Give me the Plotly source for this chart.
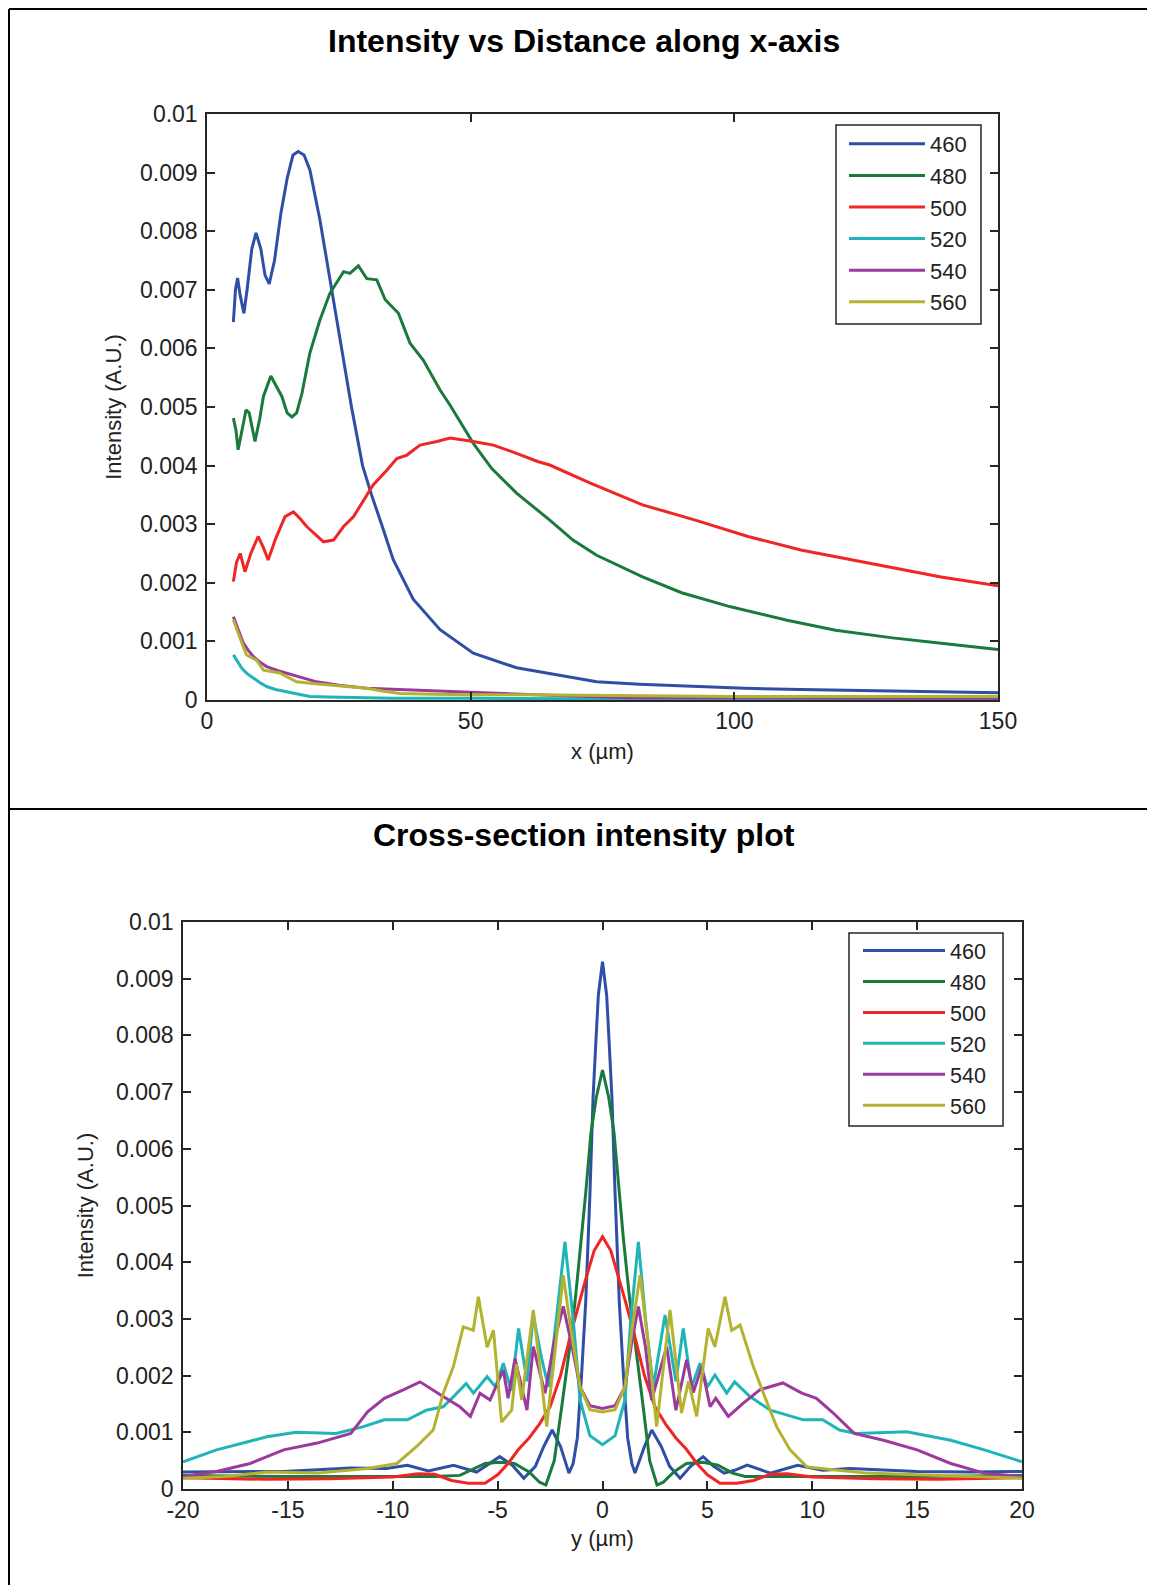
import plotly.graph_objects as go

W, H = 1155, 1585
PAGE_OFFSET = 8  # the page body adds an 8 px margin around the figure

wavelengths = ["460", "480", "500", "520", "540", "560"]
colors = ["#2f4ea6", "#1a7a3c", "#f02626", "#1fb5b8", "#9c3a9c", "#b3b330"]

# ---------- Top chart: intensity vs distance along x (x in um, intensity in 1e-3 A.U.) ----------
top_x_460 = [5.0, 5.4, 5.8, 6.3, 7.0, 7.6, 8.5, 9.3, 10.2, 11.0, 11.8, 12.8, 14.0, 15.2, 16.3, 17.3, 18.4, 19.5,
             21.4, 23.3, 25.2, 27.4, 29.5, 31.2, 33.1, 35.3, 39.1, 44.2, 50.5, 58.7, 68.2, 73.9, 82.0, 92.6,
             102.0, 112.6, 125.0, 139.2, 150.0]
top_i_460 = [6.45, 7.0, 7.2, 6.9, 6.6, 7.0, 7.7, 7.97, 7.7, 7.25, 7.1, 7.5, 8.3, 8.9, 9.3, 9.36, 9.3, 9.05,
             8.2, 7.2, 6.2, 5.0, 4.0, 3.5, 3.0, 2.4, 1.72, 1.2, 0.8, 0.55, 0.40, 0.31, 0.27, 0.23,
             0.20, 0.18, 0.16, 0.14, 0.125]

top_x_480 = [5.0, 5.5, 5.9, 6.6, 7.4, 8.0, 8.6, 9.1, 10.0, 10.7, 12.1, 13.2, 14.2, 15.2, 16.1, 17.0, 18.0, 19.5,
             21.4, 23.3, 25.9, 27.1, 28.7, 30.3, 32.2, 33.8, 36.3, 38.5, 41.0, 44.2, 46.1, 50.5, 54.0, 58.7,
             65.0, 69.4, 73.9, 82.6, 90.0, 99.3, 110.0, 119.2, 130.0, 139.2, 150.0]
top_i_480 = [4.81, 4.6, 4.27, 4.6, 4.95, 4.9, 4.6, 4.41, 4.8, 5.18, 5.53, 5.35, 5.18, 4.9, 4.83, 4.9, 5.23, 5.92,
             6.48, 6.94, 7.31, 7.28, 7.41, 7.19, 7.17, 6.83, 6.60, 6.09, 5.80, 5.29, 5.03, 4.38, 3.95, 3.53,
             3.07, 2.73, 2.47, 2.10, 1.83, 1.59, 1.36, 1.19, 1.06, 0.97, 0.86]

top_x_500 = [5.0, 5.6, 6.3, 7.2, 8.3, 9.7, 10.7, 11.6, 13.0, 14.8, 16.4, 17.6, 18.9, 20.5, 22.1, 24.0, 25.9, 27.8,
             29.7, 31.5, 34.1, 36.0, 37.9, 40.4, 43.6, 46.1, 50.5, 54.3, 58.7, 62.7, 65.0, 72.7, 82.6, 92.6,
             102.6, 112.6, 125.9, 139.2, 150.0]
top_i_500 = [2.02, 2.35, 2.50, 2.19, 2.5, 2.79, 2.6, 2.39, 2.75, 3.13, 3.21, 3.1, 2.96, 2.83, 2.70, 2.73, 2.96, 3.13,
             3.41, 3.67, 3.92, 4.12, 4.18, 4.35, 4.41, 4.47, 4.41, 4.35, 4.21, 4.07, 4.01, 3.70, 3.33, 3.07,
             2.79, 2.56, 2.33, 2.10, 1.95]

top_x_520 = [5.0, 5.8, 6.6, 7.6, 8.8, 10.0, 11.3, 13.0, 15.1, 17.0, 19.5, 23.0, 27.0, 35.0, 50.0, 70.0, 100.0, 150.0]
top_i_520 = [0.77, 0.66, 0.54, 0.45, 0.37, 0.30, 0.23, 0.18, 0.14, 0.10, 0.06, 0.05, 0.04, 0.03, 0.03, 0.02, 0.02, 0.02]

top_x_540 = [5.0, 5.5, 6.2, 6.9, 7.8, 8.8, 10.0, 11.3, 13.5, 16.4, 18.5, 20.8, 25.0, 30.3, 36.0, 42.9, 50.0, 53.0,
             65.0, 80.0, 100.0, 130.0, 150.0]
top_i_540 = [1.42, 1.30, 1.12, 0.97, 0.85, 0.74, 0.65, 0.57, 0.50, 0.43, 0.37, 0.31, 0.25, 0.20, 0.18, 0.16, 0.14, 0.12,
             0.08, 0.04, 0.035, 0.03, 0.03]

top_x_560 = [5.0, 5.9, 6.7, 7.5, 8.5, 9.4, 10.7, 12.2, 13.8, 15.5, 17.0, 20.0, 22.7, 26.0, 30.3, 33.5, 36.6, 43.0,
             50.0, 60.0, 80.0, 100.0, 150.0]
top_i_560 = [1.37, 1.14, 0.95, 0.77, 0.72, 0.68, 0.51, 0.48, 0.46, 0.38, 0.31, 0.28, 0.26, 0.23, 0.20, 0.15, 0.11, 0.10,
             0.09, 0.09, 0.07, 0.06, 0.06]

# ---------- Bottom chart: cross-section (y in um, intensity in 1e-3 A.U.) ----------
bot_y_460 = [-20, -17.5, -15.2, -12.0, -10.3, -9.3, -8.3, -7.1, -6.0, -4.9, -4.3, -3.75, -3.2, -2.8, -2.4, -2.0,
             -1.6, -1.4, -1.2, -1.0, -0.8, -0.6, -0.45, -0.3, -0.2, 0.0, 0.2, 0.3, 0.45, 0.6, 0.8, 1.0, 1.2, 1.4,
             1.55, 2.0, 2.35, 2.8, 3.2, 3.7, 4.2, 4.8, 5.3, 5.8, 6.3, 6.9, 8.0, 9.3, 10.5, 11.8, 15.0, 17.5, 20.0]
bot_i_460 = [0.30, 0.30, 0.31, 0.37, 0.36, 0.42, 0.32, 0.42, 0.30, 0.57, 0.42, 0.19, 0.40, 0.75, 1.04, 0.75,
             0.28, 0.45, 0.90, 2.0, 3.3, 5.2, 6.9, 8.0, 8.7, 9.3, 8.7, 8.0, 6.9, 5.2, 3.3, 2.0, 0.9, 0.45,
             0.28, 0.75, 1.04, 0.75, 0.40, 0.19, 0.40, 0.57, 0.40, 0.28, 0.33, 0.42, 0.28, 0.42, 0.33, 0.36, 0.31, 0.30, 0.31]

bot_y_480 = [-20, -15, -10.4, -8.0, -6.8, -6.2, -5.6, -4.9, -4.2, -3.5, -3.0, -2.7, -2.3, -1.9, -1.6, -1.3, -1.0,
             -0.8, -0.55, -0.3, 0.0, 0.3, 0.55, 0.8, 1.0, 1.3, 1.6, 1.9, 2.25, 2.6, 2.9, 3.4, 4.0, 4.8, 5.5, 6.2,
             6.8, 8.0, 10.5, 15.0, 20.0]
bot_i_480 = [0.24, 0.22, 0.22, 0.22, 0.24, 0.35, 0.45, 0.47, 0.45, 0.30, 0.12, 0.07, 0.50, 1.57, 2.40, 3.33, 4.40,
             5.22, 6.28, 6.90, 7.39, 6.90, 6.28, 5.22, 4.40, 3.33, 2.40, 1.57, 0.50, 0.07, 0.12, 0.30, 0.45, 0.47,
             0.42, 0.28, 0.22, 0.22, 0.22, 0.22, 0.24]

bot_y_500 = [-20, -16, -13, -10, -8.8, -8.0, -7.2, -6.4, -5.6, -5.0, -4.5, -4.0, -3.5, -3.0, -2.5, -2.0, -1.5, -1.1,
             -0.8, -0.4, 0.0, 0.4, 0.8, 1.1, 1.5, 2.0, 2.5, 3.0, 3.5, 4.0, 4.5, 5.0, 5.6, 6.4, 7.2, 8.0, 8.8, 10.0,
             13.0, 16.0, 20.0]
bot_i_500 = [0.20, 0.17, 0.18, 0.21, 0.27, 0.26, 0.15, 0.10, 0.10, 0.25, 0.45, 0.70, 0.90, 1.15, 1.45, 2.00, 2.75,
             3.30, 3.70, 4.20, 4.45, 4.20, 3.70, 3.30, 2.75, 2.00, 1.45, 1.15, 0.90, 0.70, 0.45, 0.25, 0.10, 0.10,
             0.15, 0.26, 0.27, 0.21, 0.18, 0.17, 0.20]

bot_y_520 = [-20, -18.4, -16.0, -14.6, -12.7, -11.4, -10.4, -9.3, -8.4, -7.6, -7.1, -6.5, -6.15, -5.5, -5.1, -4.73,
             -4.35, -4.0, -3.6, -3.3, -2.9, -2.58, -2.2, -1.79, -1.4, -1.07, -0.6, 0.0, 0.6, 1.07, 1.35, 1.71, 2.05,
             2.42, 2.98, 3.5, 3.85, 4.25, 4.65, 5.0, 5.36, 5.92, 6.3, 7.03, 8.0, 9.58, 10.5, 11.3, 12.1, 14.5, 16.6,
             18.2, 20.0]
bot_i_520 = [0.48, 0.69, 0.92, 1.00, 0.98, 1.10, 1.22, 1.22, 1.39, 1.45, 1.63, 1.86, 1.69, 1.98, 1.80, 2.22,
             1.73, 2.83, 1.90, 3.07, 2.30, 1.80, 3.00, 4.36, 3.00, 1.57, 0.94, 0.78, 0.94, 1.57, 3.00, 4.36, 3.00,
             1.80, 3.07, 1.90, 2.83, 1.80, 2.22, 1.80, 2.01, 1.69, 1.89, 1.63, 1.39, 1.22, 1.22, 1.04, 0.98, 1.01, 0.86,
             0.69, 0.48]

bot_y_540 = [-20, -18.4, -16.8, -15.2, -13.6, -12.0, -11.2, -10.4, -9.5, -8.7, -7.6, -6.8, -6.3, -5.84, -5.36, -4.95,
             -4.73, -4.5, -4.17, -3.6, -3.3, -2.74, -2.3, -1.87, -1.5, -1.07, -0.6, 0.0, 0.6, 1.07, 1.4, 1.71, 2.05,
             2.34, 3.06, 3.5, 4.01, 4.33, 4.73, 5.13, 5.4, 6.0, 6.7, 7.5, 8.6, 9.5, 10.2, 11.0, 12.0, 13.4, 15.0,
             16.6, 18.2, 20.0]
bot_i_540 = [0.22, 0.31, 0.45, 0.69, 0.81, 0.98, 1.36, 1.60, 1.75, 1.89, 1.63, 1.45, 1.28, 1.69, 1.57, 1.90,
             2.10, 1.60, 2.30, 1.39, 2.51, 1.69, 2.60, 3.22, 2.60, 1.80, 1.47, 1.42, 1.47, 1.80, 2.60, 3.22, 2.50,
             1.57, 2.51, 1.39, 2.28, 1.70, 2.16, 1.45, 1.60, 1.28, 1.51, 1.75, 1.87, 1.69, 1.60, 1.34, 0.98, 0.86, 0.69,
             0.45, 0.28, 0.22]

bot_y_560 = [-20, -18, -16, -13.6, -11.2, -9.8, -8.86, -8.07, -7.59, -7.11, -6.64, -6.16, -5.92, -5.5, -5.2, -4.81,
             -4.33, -4.1, -3.85, -3.3, -2.66, -2.25, -1.87, -1.5, -1.07, -0.6, 0.0, 0.6, 1.07, 1.4, 1.79, 2.2, 2.58,
             3.22, 3.77, 4.1, 4.49, 5.04, 5.36, 5.84, 6.16, 6.56, 7.19, 7.67, 8.3, 8.94, 9.74, 11.0, 12.6, 15.0,
             17.5, 20.0]
bot_i_560 = [0.19, 0.22, 0.30, 0.28, 0.36, 0.45, 0.75, 1.04, 1.69, 2.16, 2.86, 2.80, 3.39, 2.50, 2.80, 1.18,
             1.39, 2.20, 1.57, 3.16, 1.10, 2.50, 3.77, 2.80, 1.80, 1.40, 1.36, 1.40, 1.80, 2.80, 3.77, 2.50, 1.10,
             3.16, 1.34, 1.90, 1.28, 2.83, 2.51, 3.39, 2.80, 2.89, 2.16, 1.69, 1.10, 0.69, 0.39, 0.34, 0.28, 0.25,
             0.22, 0.19]

top_series = [(top_x_460, top_i_460), (top_x_480, top_i_480), (top_x_500, top_i_500),
              (top_x_520, top_i_520), (top_x_540, top_i_540), (top_x_560, top_i_560)]
bot_series = [(bot_y_460, bot_i_460), (bot_y_480, bot_i_480), (bot_y_500, bot_i_500),
              (bot_y_520, bot_i_520), (bot_y_540, bot_i_540), (bot_y_560, bot_i_560)]

SCALE = 1e-3  # intensities above are listed in units of 1e-3 A.U.

y_tickvals = [k * 0.001 for k in range(11)]
y_ticktext = ["0", "0.001", "0.002", "0.003", "0.004", "0.005", "0.006", "0.007", "0.008", "0.009", "0.01"]
top_x_ticks = [0, 50, 100, 150]
bot_x_ticks = [-20, -15, -10, -5, 0, 5, 10, 15, 20]
bot_x_ticktext = ["-20", "-15", "-10", "-5", "0", "5", "10", "15", "20"]

FONT = "Liberation Sans, Arial, Helvetica, sans-serif"
AX = "#262626"

fig = go.Figure()
for name, col, (xs, ys) in zip(wavelengths, colors, top_series):
    fig.add_trace(go.Scatter(x=xs, y=[v * SCALE for v in ys], mode="lines", name=name,
                             line=dict(color=col, width=3), xaxis="x", yaxis="y", legend="legend"))
for name, col, (xs, ys) in zip(wavelengths, colors, bot_series):
    fig.add_trace(go.Scatter(x=xs, y=[v * SCALE for v in ys], mode="lines", name=name,
                             line=dict(color=col, width=3), xaxis="x2", yaxis="y2", legend="legend2"))


def xp(p):
    return (p - PAGE_OFFSET) / W


def yp(p):
    return 1 - (p - PAGE_OFFSET) / H


def axis_common(standoff_lbl):
    return dict(showline=True, linecolor=AX, linewidth=1.5, mirror="ticks", ticks="inside",
                ticklen=8, tickwidth=1.5, tickcolor=AX, showgrid=False, zeroline=False, automargin=False,
                tickfont=dict(family=FONT, size=23, color="#222"), ticklabelstandoff=standoff_lbl)


title_font = dict(size=22, family=FONT, color="#222")

fig.update_layout(
    width=W, height=H, margin=dict(l=0, r=0, t=0, b=0, pad=0, autoexpand=False),
    paper_bgcolor="white", plot_bgcolor="white",
    font=dict(family=FONT, color="#222"),
    xaxis=dict(domain=[xp(207), xp(998)], range=[0, 150], tickvals=top_x_ticks, anchor="y",
               title=dict(text="x (µm)", font=title_font, standoff=10), **axis_common(0)),
    yaxis=dict(domain=[yp(700), yp(114)], range=[0, 0.01], tickvals=y_tickvals, ticktext=y_ticktext, anchor="x",
               title=dict(text="Intensity (A.U.)", font=title_font, standoff=12), **axis_common(3)),
    xaxis2=dict(domain=[xp(183), xp(1022)], range=[-20, 20], tickvals=bot_x_ticks, ticktext=bot_x_ticktext,
                anchor="y2", title=dict(text="y (µm)", font=title_font, standoff=8), **axis_common(0)),
    yaxis2=dict(domain=[yp(1489), yp(922)], range=[0, 0.01], tickvals=y_tickvals, ticktext=y_ticktext, anchor="x2",
                title=dict(text="Intensity (A.U.)", font=title_font, standoff=16), **axis_common(3)),
    legend=dict(x=xp(844), y=yp(123), xanchor="left", yanchor="top", bgcolor="rgba(0,0,0,0)",
                borderwidth=0, font=dict(size=22, family=FONT, color="#222"),
                itemwidth=76, tracegroupgap=0),
    legend2=dict(x=xp(858), y=yp(930), xanchor="left", yanchor="top", bgcolor="rgba(0,0,0,0)",
                 borderwidth=0, font=dict(size=21.5, family=FONT, color="#222"),
                 itemwidth=82, tracegroupgap=0),
    showlegend=True,
)

# Legend frames (MATLAB-style boxes)
fig.add_shape(type="rect", xref="paper", yref="paper", x0=xp(836), x1=xp(981), y0=yp(324), y1=yp(125),
              line=dict(color=AX, width=1.5), fillcolor="white", layer="above")
fig.add_shape(type="rect", xref="paper", yref="paper", x0=xp(849), x1=xp(1003), y0=yp(1126), y1=yp(933),
              line=dict(color=AX, width=1.5), fillcolor="white", layer="above")

# Titles of the two panels
fig.add_annotation(text="<b>Intensity vs Distance along x-axis</b>", xref="paper", yref="paper",
                   x=xp(584), y=yp(41), xanchor="center", yanchor="middle", showarrow=False,
                   font=dict(size=32, family=FONT, color="black"))
fig.add_annotation(text="<b>Cross-section intensity plot</b>", xref="paper", yref="paper",
                   x=xp(584), y=yp(835), xanchor="center", yanchor="middle", showarrow=False,
                   font=dict(size=32, family=FONT, color="black"))

# Table-like frame lines around the panels
frame = dict(color="black", width=2)
fig.add_shape(type="line", xref="paper", yref="paper", x0=xp(9), x1=1, y0=yp(9), y1=yp(9), line=frame)
fig.add_shape(type="line", xref="paper", yref="paper", x0=xp(9), x1=xp(9), y0=yp(9), y1=0, line=frame)
fig.add_shape(type="line", xref="paper", yref="paper", x0=xp(9), x1=1, y0=yp(809), y1=yp(809), line=frame)

fig.write_html("out.html")
